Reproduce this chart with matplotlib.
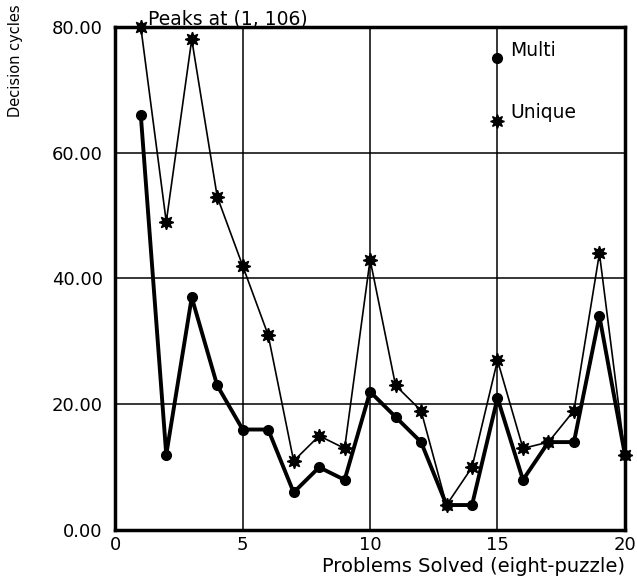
import numpy as np
import matplotlib
matplotlib.use("Agg")
import matplotlib.pyplot as plt

plt.rcParams['font.family'] = ['DejaVu Sans']

problems = list(range(1, 21))
multi = [66, 12, 37, 23, 16, 16, 6, 10, 8, 22, 18, 14, 4, 4, 21, 8, 14, 14, 34, 12]
unique = [106, 49, 78, 53, 42, 31, 11, 15, 13, 43, 23, 19, 4, 10, 27, 13, 14, 19, 44, 12]
y_ticks = [0, 20, 40, 60, 80]
x_ticks = [0, 5, 10, 15, 20]
y_max = 80

fig = plt.figure(figsize=(6.37, 5.82), dpi=100)
ax = fig.add_axes([0.181, 0.089, 0.8, 0.865])

star = (8, 1, 0)

# unique peaks off the chart at problem 1, so draw it at the top edge
unique_shown = np.minimum(unique, y_max)
ax.plot(problems, unique_shown, color='black', lw=1.2, marker=star, ms=10.5,
        clip_on=False, zorder=3)
ax.plot(problems, multi, color='black', lw=2.8, marker='o', ms=7,
        clip_on=False, zorder=4)

# legend drawn inside the plot like the original
ax.plot([15], [75], marker='o', color='black', ms=7, zorder=5)
ax.text(15.5, 76.3, 'Multi', fontsize=13.5, va='center', ha='left')
ax.plot([15], [65], marker=star, color='black', ms=10, zorder=5)
ax.text(15.5, 66.3, 'Unique', fontsize=13.5, va='center', ha='left')

ax.text(1.3, 80.3, 'Peaks at (1, 106)', fontsize=13.5, va='baseline', ha='left')

ax.set_xlim(0, 20)
ax.set_ylim(0, y_max)
ax.set_xticks(x_ticks)
ax.set_yticks(y_ticks)
ax.set_yticklabels(['%.2f' % v for v in y_ticks])
ax.tick_params(length=0, labelsize=13)
ax.tick_params(axis='y', pad=9)
ax.tick_params(axis='x', pad=4)
ax.grid(True, color='black', lw=1.1)
for s in ax.spines.values():
    s.set_linewidth(2.5)

ax.set_xlabel('Problems Solved (eight-puzzle)', fontsize=14, loc='right', labelpad=2)
fig.text(0.024, 0.992, 'Decision cycles', rotation=90, fontsize=10.5,
         va='top', ha='center')

fig.savefig('out.png', dpi=100)
